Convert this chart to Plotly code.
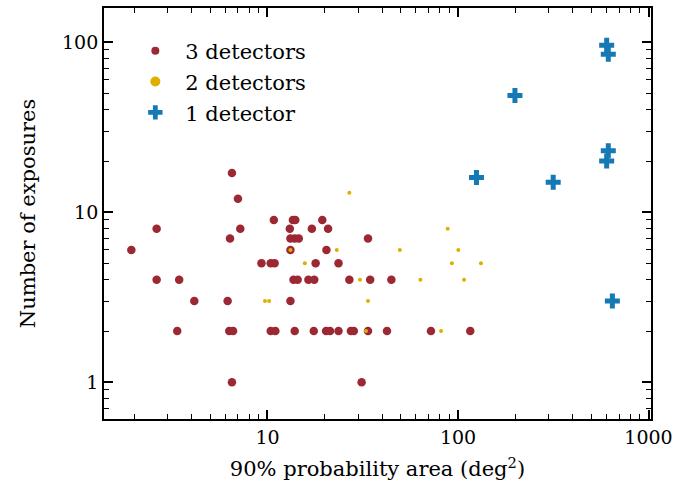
import plotly.graph_objects as go

# 3 detectors
area3 = [6.51, 7.0, 10.8, 13.6, 14.0, 19.4, 2.62, 7.2, 13.1, 17.1, 20.8,
         6.36, 13.2, 13.9, 14.6, 33.7, 1.93, 13.2, 20.4,
         9.3, 10.4, 10.9, 17.9, 23.6,
         2.62, 3.44, 13.7, 14.4, 16.4, 17.6, 26.9, 34.6, 44.7,
         4.13, 6.18, 13.2,
         3.36, 6.3, 6.6, 10.4, 11.0, 13.9, 17.5, 20.3, 21.3, 23.6, 27.4, 28.4, 33.7, 42.4, 72.1, 116,
         6.51, 31.2]
exp3 = [17, 12, 9, 9, 9, 9, 8, 8, 8, 8, 8,
        7, 7, 7, 7, 7, 6, 6, 6,
        5, 5, 5, 5, 5,
        4, 4, 4, 4, 4, 4, 4, 4, 4,
        3, 3, 3,
        2, 2, 2, 2, 2, 2, 2, 2, 2, 2, 2, 2, 2, 2, 2, 2,
        1, 1]

# 2 detectors
area2 = [26.9, 13.2, 23.1, 49.5, 100.4, 15.7, 92.9, 132, 88.3, 30.6, 63.5, 107.6,
         9.7, 10.2, 33.7, 32.9, 81.5]
exp2 = [13, 6, 6, 6, 6, 5, 5, 5, 8, 4, 4, 4,
        3, 3, 3, 2, 2]

# 1 detector
area1 = [603, 615, 199, 615, 603, 316, 125, 646]
exp1 = [96, 85, 48.5, 23, 20, 15, 16, 3]

RED = "#9c2833"
YEL = "#ddb000"
BLU = "#1479b4"
FONT = "DejaVu Serif"
FS_TICK = 19
FS_TXT = 21

fig = go.Figure()
fig.add_trace(go.Scatter(x=area3, y=exp3, mode="markers", showlegend=False,
                         marker=dict(color=RED, size=8.5)))
fig.add_trace(go.Scatter(x=area2, y=exp2, mode="markers", showlegend=False,
                         marker=dict(color=YEL, size=4)))
fig.add_trace(go.Scatter(x=area1, y=exp1, mode="markers", showlegend=False,
                         marker=dict(color=BLU, size=12.5, symbol="cross")))
# legend entries
fig.add_trace(go.Scatter(x=[None], y=[None], mode="markers", name="3 detectors",
                         legendgroup="a", marker=dict(color=RED, size=8)))
fig.add_trace(go.Scatter(x=[None], y=[None], mode="markers", name="2 detectors",
                         legendgroup="b", marker=dict(color=YEL, size=10)))
fig.add_trace(go.Scatter(x=[None], y=[None], mode="markers", name="1 detector",
                         legendgroup="c", marker=dict(color=BLU, size=12, symbol="cross")))

axis_common = dict(
    type="log", showline=True, linecolor="black", linewidth=1.8, mirror="allticks",
    ticks="inside", ticklen=9, tickwidth=1.6, tickcolor="black", showgrid=False,
    zeroline=False, dtick=1,
    minor=dict(ticks="inside", ticklen=5, tickwidth=1.3, tickcolor="black",
               dtick="D1", showgrid=False),
    tickfont=dict(family=FONT, size=FS_TICK, color="black"),
)

fig.update_xaxes(**axis_common, range=[0.142, 3.013],
                 title=dict(text="90% probability area (deg<sup>2</sup>)",
                            font=dict(family=FONT, size=FS_TXT, color="black"), standoff=15))
fig.update_yaxes(**axis_common, range=[-0.2166, 2.201],
                 title=dict(text="Number of exposures",
                            font=dict(family=FONT, size=FS_TXT, color="black"), standoff=21))

fig.update_layout(
    width=697, height=491,
    margin=dict(l=104, r=46, t=6, b=72),
    paper_bgcolor="white", plot_bgcolor="white",
    font=dict(family=FONT, color="black"),
    legend=dict(x=0.039, y=0.945, xanchor="left", yanchor="top",
                font=dict(family=FONT, size=FS_TXT, color="black"),
                bgcolor="rgba(0,0,0,0)", itemsizing="trace", tracegroupgap=0.5,
                itemwidth=50),
)

fig.write_html("out.html")
